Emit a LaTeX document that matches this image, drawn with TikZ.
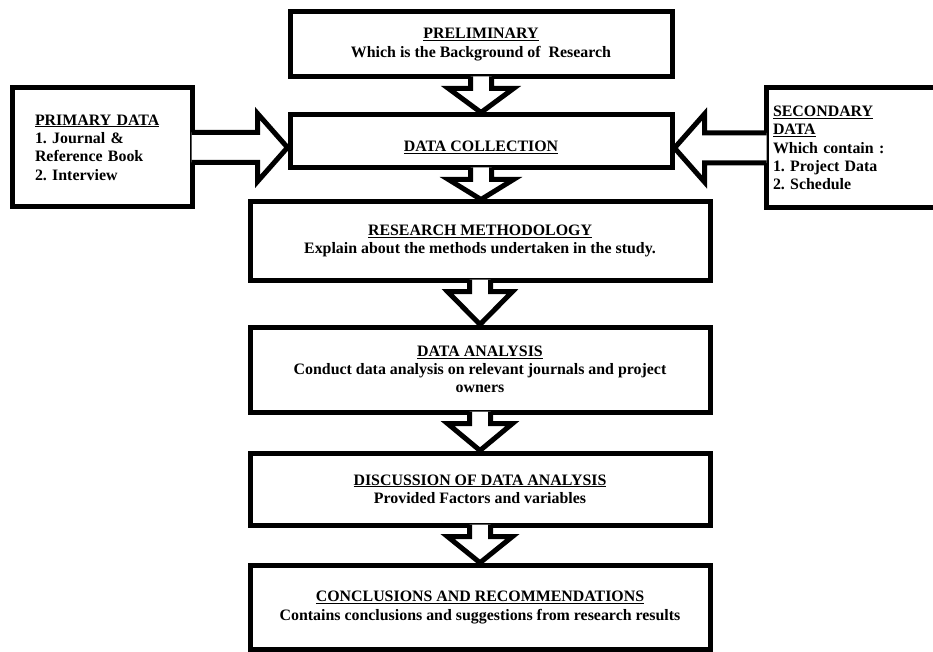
\documentclass[tikz,border=0pt]{standalone}
\usepackage{fontspec}
\setmainfont{Liberation Serif}
\usetikzlibrary{calc}
\frenchspacing

\newcommand{\blockdown}[2]{%
  \path[blockarrow] ($(#1.south)+(-10.5,-3)$) -- ++(0,12) -- ++(-22,0)
    -- (#1.south |- #2.north) -- ($(#1.south)+(32.5,9)$) -- ++(-22,0) -- ++(0,-12);
}
\newcommand{\blockright}[2]{%
  \path[blockarrow] ($(#1.east)+(-3,-15)$) -- ($(#2.west |- #1.east)+(-30,-15)$) -- ++(0,-19)
    -- (#2.west |- #1.east) -- ($(#2.west |- #1.east)+(-30,34)$) -- ++(0,-19) -- ($(#1.east)+(-3,15)$);
}
\newcommand{\blockleft}[2]{%
  \path[blockarrow] ($(#1.west)+(3,-15)$) -- ($(#2.east |- #1.west)+(30,-15)$) -- ++(0,-19)
    -- (#2.east |- #1.west) -- ($(#2.east |- #1.west)+(30,34)$) -- ++(0,-19) -- ($(#1.west)+(3,15)$);
}

\begin{document}
\begin{tikzpicture}[x=1pt,y=-1pt,line width=5pt,line join=miter,
    font=\fontsize{15.9}{18.3}\selectfont\bfseries,
    stage/.style={draw,rectangle,inner sep=0pt,align=center,
        execute at begin node={\rule{0pt}{22pt}}},
    side/.style={draw,rectangle,inner sep=0pt,align=left},
    blockarrow/.style={draw,fill=white}]
    \clip (0,0) rectangle (933,652);

    \node[stage,minimum width=382,minimum height=65] (prelim) at (481,44.5)
        {\underline{PRELIMINARY}\\Which is the Background of \ Research};
    \node[stage,minimum width=382,minimum height=53] (collect) at (481,141.5)
        {\underline{DATA COLLECTION}};
    \node[stage,minimum width=460,minimum height=78] (method) at (480,241)
        {\underline{RESEARCH METHODOLOGY}\\Explain about the methods undertaken in the study.};
    \node[stage,minimum width=460,minimum height=85] (analysis) at (480,369.5)
        {\underline{DATA ANALYSIS}\\Conduct data analysis on relevant journals and project\\owners};
    \node[stage,minimum width=460,minimum height=72] (discuss) at (480,489)
        {\underline{DISCUSSION OF DATA ANALYSIS}\\Provided Factors and variables};
    \node[stage,minimum width=460,minimum height=84.5] (concl) at (480,607.5)
        {\underline{CONCLUSIONS AND RECOMMENDATIONS}\\Contains conclusions and suggestions from research results};

    \node[side,minimum width=180,minimum height=119,text width=134] (primary) at (102,147.5)
        {\underline{PRIMARY DATA}\\1. Journal \&\\Reference Book\\2. Interview};
    \node[side,minimum width=184,minimum height=120,text width=170] (secondary) at (858,148)
        {\underline{SECONDARY}\\\underline{DATA}\\Which contain :\\1. Project Data\\2. Schedule};

    \blockdown{prelim}{collect}
    \blockdown{collect}{method}
    \blockdown{method}{analysis}
    \blockdown{analysis}{discuss}
    \blockdown{discuss}{concl}

    \blockright{primary}{collect}
    \blockleft{secondary}{collect}

\end{tikzpicture}
\end{document}
